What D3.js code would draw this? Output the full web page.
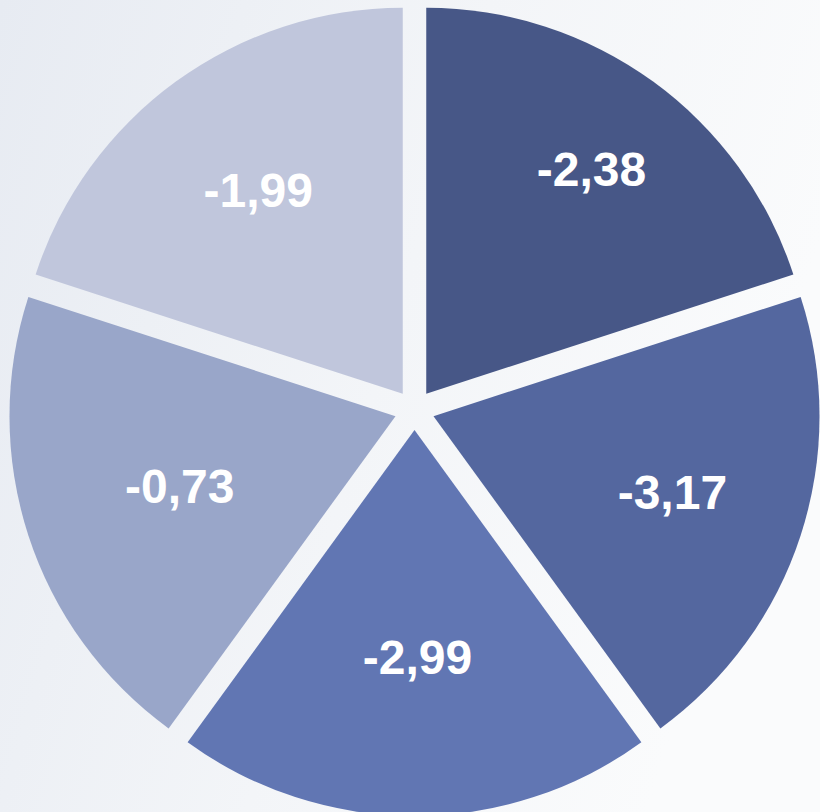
<!DOCTYPE html>
<html>
<head>
<meta charset="utf-8">
<script src="https://cdn.jsdelivr.net/npm/d3@7"></script>
<style>
  html, body { margin: 0; padding: 0; }
  svg { display: block; }
</style>
</head>
<body>
<svg id="chart" width="820" height="812"></svg>
<script>
var labels = ['-2,38', '-3,17', '-2,99', '-0,73', '-1,99'];
var values = [-2.38, -3.17, -2.99, -0.73, -1.99];
var colours = ['#475787', '#54679f', '#6176b3', '#99a6c9', '#c0c6dc'];
// distance of each label from the centre (layout)
var labelRadius = [296, 268, 248, 250, 271];

var width = 820;
var height = 812;
var cx = 414.5;
var cy = 410;
var radius = 386;
var explode = 20;

var svg = d3.select('#chart');

/* Background */
var defs = svg.append('defs');
var bg = defs.append('linearGradient')
    .attr('id', 'bg')
    .attr('x1', '0').attr('y1', '0')
    .attr('x2', '1').attr('y2', '0.3');
bg.append('stop').attr('offset', '0%').attr('stop-color', '#e7ebf2');
bg.append('stop').attr('offset', '55%').attr('stop-color', '#f3f5f8');
bg.append('stop').attr('offset', '100%').attr('stop-color', '#fafbfc');

svg.append('rect')
    .attr('width', width)
    .attr('height', height)
    .attr('fill', 'url(#bg)');

/* Pie */
var rows = labels.map(function(l, i) {
    return { label: l, value: values[i], colour: colours[i], lr: labelRadius[i] };
});

// every slice has the same share
var pie = d3.pie()
    .sort(null)
    .value(function() { return 1; });

var arc = d3.arc()
    .innerRadius(0)
    .outerRadius(radius);

var arcs = pie(rows);

var g = svg.append('g')
    .attr('transform', 'translate(' + cx + ',' + cy + ')');

function mid(d) {
    return (d.startAngle + d.endAngle) / 2;
}

g.selectAll('path')
    .data(arcs)
    .join('path')
    .attr('fill', function(d) { return d.data.colour; })
    .attr('transform', function(d) {
        var a = mid(d);
        return 'translate(' + (Math.sin(a) * explode) + ',' + (-Math.cos(a) * explode) + ')';
    })
    .attr('d', arc);

g.selectAll('text')
    .data(arcs)
    .join('text')
    .attr('x', function(d) { return Math.sin(mid(d)) * d.data.lr + 3; })
    .attr('y', function(d) { return -Math.cos(mid(d)) * d.data.lr; })
    .attr('text-anchor', 'middle')
    .attr('dy', '0.33em')
    .style('font-family', '"Liberation Sans", Arial, sans-serif')
    .style('font-weight', 'bold')
    .style('font-size', '48px')
    .style('fill', '#ffffff')
    .text(function(d) { return d.data.label; });
</script>
</body>
</html>
